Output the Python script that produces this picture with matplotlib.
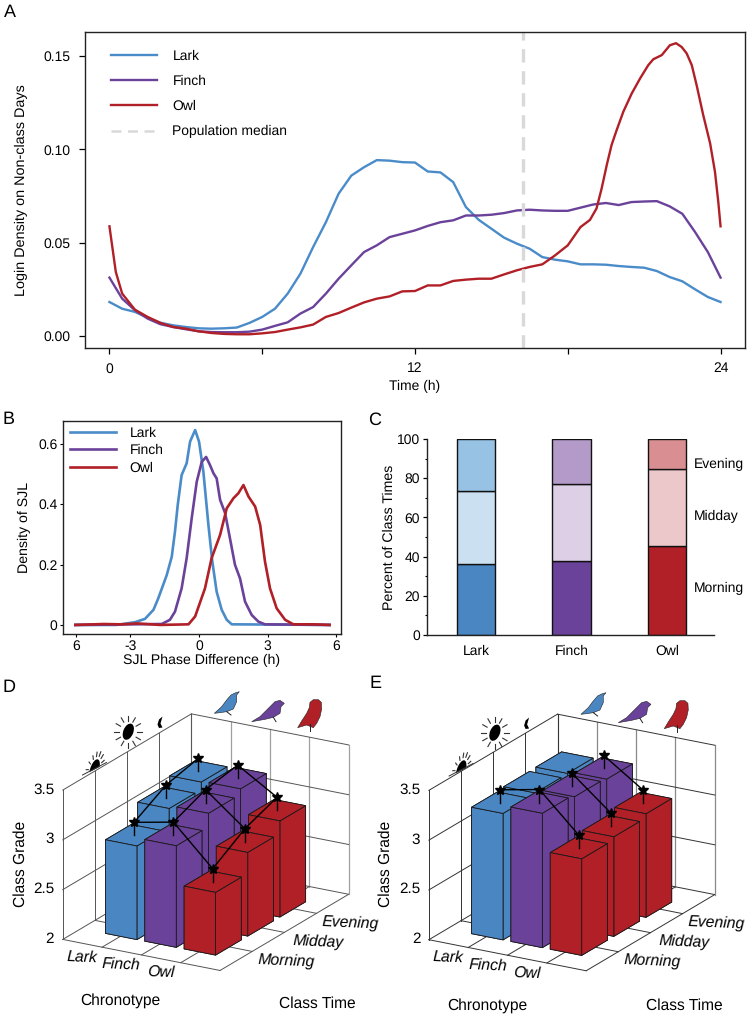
"""Chronotype figure: login density, SJL density, class time shares, class grades."""

import numpy as np
import matplotlib
matplotlib.use("Agg")
import matplotlib.pyplot as plt
from matplotlib.patches import Ellipse, Polygon
from mpl_toolkits.mplot3d import proj3d

plt.rcParams["font.family"] = ["Liberation Sans", "DejaVu Sans"]
plt.rcParams["axes.linewidth"] = 1.0
plt.rcParams["axes.edgecolor"] = "#222222"
plt.rcParams["text.hinting"] = "no_hinting"

W, H = 750, 1017

# --- Colours ---
BLUE, PURPLE, RED = "#4a86c2", "#6b429a", "#b11f27"
chronotypes = ["Lark", "Finch", "Owl"]
class_times = ["Morning", "Midday", "Evening"]

# --- Panel A: login density ---
t_half = np.arange(0, 24.5, 0.5)
lark_a = [.0182, .0146, .0129, .0098, .0071, .0057, .0048, .0041, .0039, .0041,
          .0045, .0070, .0102, .0146, .0227, .0334, .0477, .0610, .0763, .0860,
          .0905, .0943, .0940, .0932, .0930, .0882, .0877, .0825, .0691, .0623,
          .0575, .0527, .0495, .0468, .0423, .0409, .0400, .0384, .0384, .0382,
          .0375, .0370, .0366, .0348, .0316, .0293, .0250, .0209, .0182]
finch_a = [.0313, .0200, .0138, .0093, .0063, .0048, .0036, .0025, .0021, .0020,
           .0020, .0023, .0034, .0054, .0073, .0120, .0155, .0227, .0307, .0379,
           .0450, .0486, .0530, .0548, .0566, .0590, .0610, .0620, .0646, .0646,
           .0650, .0659, .0673, .0677, .0673, .0671, .0671, .0688, .0705, .0713,
           .0702, .0718, .0721, .0723, .0695, .0655, .0557, .0450, .0313]
t_owl = [0, .25, .5, 1, 1.5, 2, 2.5, 3, 3.5, 4, 4.5, 5, 5.5, 6, 6.5, 7, 7.5, 8, 8.5,
         9, 9.5, 10, 10.5, 11, 11.5, 12, 12.5, 13, 13.5, 14, 14.5, 15, 15.5, 16,
         16.5, 17, 17.5, 18, 18.5, 18.87, 19.13, 19.33, 19.53, 19.72, 19.92, 20.18,
         20.51, 20.84, 21.16, 21.36, 21.69, 22.01, 22.25, 22.47, 22.67, 22.87, 23.06,
         23.32, 23.59, 23.78, 23.91, 24]
owl_a = [.0588, .0343, .0227, .0141, .0102, .0070, .0048, .0039, .0025, .0016, .0011,
         .0009, .0009, .0014, .0021, .0034, .0046, .0061, .0102, .0123, .0152, .0180,
         .0200, .0212, .0239, .0241, .0271, .0271, .0295, .0302, .0307, .0307, .0330,
         .0352, .0370, .0384, .0432, .0486, .0584, .0622, .0684, .0791, .0916, .1024,
         .1104, .1202, .1300, .1381, .1452, .1484, .1506, .1559, .1570, .1550, .1515,
         .1452, .1345, .1184, .1033, .0881, .0720, .0588]
median_time = 16.23

# --- Panel B: SJL density ---
lark_bx = [-5.4, -3.6, -2.8, -2.36, -1.99, -1.78, -1.41, -1.19, -1.05, -.93, -.76, -.54,
           -.39, -.17, 0, .19, .41, .58, .77, .99, 1.21, 1.43, 5.7]
lark_by = [0, 0, .009, .02, .05, .088, .165, .226, .309, .397, .496, .535, .607, .645,
           .607, .507, .331, .21, .11, .05, .017, .002, 0]
finch_bx = [-5.4, -1.63, -1.27, -1.05, -.76, -.54, -.32, -.1, .12, .31, .48, .63, .77,
            .92, 1.14, 1.35, 1.57, 1.79, 2.01, 2.3, 2.59, 2.88, 5.7]
finch_by = [0, .003, .017, .044, .121, .221, .353, .474, .54, .556, .529, .502, .485,
            .414, .37, .287, .199, .154, .077, .033, .011, .002, 0]
owl_bx = [-5.4, -4.18, -3.4, -2.7, -1.7, -.46, -.17, .26, .55, .92, 1.21, 1.5, 1.72,
          1.94, 2.16, 2.45, 2.67, 2.88, 3.1, 3.39, 3.76, 4.12, 5, 5.7]
owl_by = [0, .003, .002, .005, 0, .002, .028, .121, .221, .298, .386, .419, .436, .463,
          .425, .392, .331, .21, .121, .055, .017, .002, .002, 0]

# --- Panel C: share of class times ---
morning_pct = [36, 38, 45.5]
midday_pct = [37.5, 39, 39]
evening_pct = [26.5, 23, 15.5]
dark_cols = [BLUE, PURPLE, RED]
pale_cols = ["#cbe0f1", "#dccfe6", "#edc8cb"]
mid_cols = ["#97c2e3", "#b49ac8", "#d98f91"]

# --- Panels D, E: class grades, rows are Morning, Midday, Evening ---
grades_d = [[2.94, 3.02, 2.63], [3.125, 3.155, 2.84], [3.20, 3.21, 2.965]]
grades_e = [[3.27, 3.35, 2.97], [3.285, 3.325, 3.00], [3.29, 3.31, 3.04]]
# (time, chronotype) pairs joined by a line
links_d = [((0, 0), (1, 0)), ((1, 0), (2, 0)), ((0, 0), (0, 1)), ((0, 1), (0, 2)),
           ((0, 1), (1, 1)), ((1, 1), (2, 1)), ((1, 1), (1, 2)), ((2, 1), (2, 2)),
           ((0, 2), (1, 2)), ((1, 2), (2, 2))]
links_e = [((0, 0), (0, 1)), ((0, 1), (0, 2)), ((1, 1), (1, 2)), ((2, 1), (2, 2))]
grade_ticks = [2, 2.5, 3, 3.5]
grade_labels = ["2", "2.5", "3", "3.5"]


def px_rect(left, top, right, bottom):
    return [left / W, 1 - bottom / H, (right - left) / W, (bottom - top) / H]


fig = plt.figure(figsize=(7.5, 10.17), dpi=100)

# --- A ---
ax = fig.add_axes(px_rect(85, 32, 745, 347.7))
ax.plot(t_half, lark_a, color="#4a8bc9", lw=1.7, label="Lark")
ax.plot(t_half, finch_a, color=PURPLE, lw=1.7, label="Finch")
ax.plot(t_owl, owl_a, color=RED, lw=1.7, label="Owl")
ax.axvline(median_time, color="#d9d9d9", lw=2.4, ls=(0, (4, 2.6)), label="Population median")
ax.set_xlim(-0.96, 24.96)
ax.set_ylim(-0.0063, 0.163)
ax.set_xticks([0, 6, 12, 18, 24], ["0", "", "12", "", "24"])
ax.set_yticks([0, 0.05, 0.10, 0.15], ["0.00", "0.05", "0.10", "0.15"])
ax.tick_params(labelsize=10, length=4.5, width=0.9, pad=6)
ax.set_xlabel("Time (h)", fontsize=10, labelpad=3.5)
ax.set_ylabel("Login Density on Non-class Days", fontsize=10.4, labelpad=11)
leg = ax.legend(loc="upper left", bbox_to_anchor=(0.021, 0.985), frameon=False, fontsize=10,
                handlelength=3.3, handletextpad=1.1, labelspacing=0.885)
leg.get_lines()[3].set_linewidth(1.8)

# --- B ---
ax = fig.add_axes(px_rect(63, 421, 341, 634.3))
ax.plot(lark_bx, lark_by, color="#4a8bc9", lw=1.9, label="Lark")
ax.plot(finch_bx, finch_by, color=PURPLE, lw=1.9, label="Finch")
ax.plot(owl_bx, owl_by, color=RED, lw=1.9, label="Owl")
ax.set_xlim(-5.94, 6.2)
ax.set_ylim(-0.031, 0.675)
ax.set_xticks([-5.37, -3, 0, 3, 6], ["6", "-3", "0", "3", "6"])
ax.set_yticks([0, 0.2, 0.4, 0.6], ["0", "0.2", "0.4", "0.6"])
ax.tick_params(labelsize=10, length=2, width=0.8, pad=2)
ax.set_xlabel("SJL Phase Difference (h)", fontsize=10.2, labelpad=1)
ax.set_ylabel("Density of SJL", fontsize=10.2, labelpad=5)
ax.legend(loc="upper left", bbox_to_anchor=(-0.018, 1.033), frameon=False, fontsize=10,
          handlelength=3.25, handletextpad=1.0, labelspacing=0.33)

# --- C ---
ax = fig.add_axes(px_rect(427, 439, 714, 635))
xpos = np.arange(len(chronotypes))
bar_kw = dict(width=0.4, edgecolor="#111111", linewidth=1.0)
ax.bar(xpos, morning_pct, color=dark_cols, **bar_kw)
ax.bar(xpos, midday_pct, bottom=morning_pct, color=pale_cols, **bar_kw)
ax.bar(xpos, evening_pct, bottom=np.add(morning_pct, midday_pct), color=mid_cols, **bar_kw)
ax.set_xlim(-0.513, 2.49)
ax.set_ylim(0, 100)
ax.set_xticks(xpos, chronotypes)
ax.set_yticks(range(0, 101, 20))
ax.set_yticks(range(10, 100, 20), minor=True)
ax.tick_params(axis="x", length=0, labelsize=10, pad=7)
ax.tick_params(axis="y", labelsize=10, length=3, width=0.9, pad=2)
ax.tick_params(axis="y", which="minor", length=1.5, width=0.8)
ax.spines[["top", "right"]].set_visible(False)
ax.set_ylabel("Percent of Class Times", fontsize=10.2, labelpad=1)
for lab, yval in zip(class_times, [23.5, 60.7, 87.2]):
    ax.text(2.28, yval, lab, fontsize=10, va="center", ha="left")


def grade_panel(rect, grades, links, line_col, back_col):
    ax3 = fig.add_axes(rect, projection="3d", proj_type="ortho")
    ax3.set_axis_off()
    ax3.patch.set_alpha(0)
    ax3.computed_zorder = False
    ax3.view_init(elev=20, azim=-60)
    ax3.set_box_aspect((545, 772, 477))

    # frame and grid
    grid = dict(color=line_col, lw=0.7, zorder=1)
    for v in [0, 1, 2, 3, 4]:
        ax3.plot([v, v], [0, 4], [2, 2], **grid)
        ax3.plot([0, 4], [v, v], [2, 2], **grid)
        ax3.plot([0, 0], [v, v], [2, 3.5], **grid)
        ax3.plot([v, v], [4, 4], [2, 3.5], color=back_col, lw=0.9, zorder=1)
    for z in grade_ticks[1:]:
        ax3.plot([0, 0], [0, 4], [z, z], **grid)
        ax3.plot([0, 4], [4, 4], [z, z], **grid)

    # bars, far ones first
    zo = 2
    for j in [2, 1, 0]:
        for i in range(3):
            ax3.bar3d(i + 1 - 0.38, j + 1 - 0.43, 2, 0.8, 0.8, grades[j][i] - 2,
                      color=dark_cols[i], edgecolor="#1a1a1a", linewidth=0.6,
                      shade=False, zorder=zo)
            zo += 1

    # links, whiskers and stars; only linked bars carry a star
    lift = 0.13
    for a, b in links:
        ax3.plot([a[1] + 1.02, b[1] + 1.02], [a[0] + 0.97, b[0] + 0.97],
                 [grades[a[0]][a[1]] + lift, grades[b[0]][b[1]] + lift],
                 color="black", lw=1.0, zorder=50)
    for j, i in sorted({cell for pair in links for cell in pair}):
        top = grades[j][i]
        ax3.plot([i + 1.02, i + 1.02], [j + 0.97, j + 0.97], [top, top + lift],
                 color="black", lw=1.0, zorder=51)
        ax3.plot([i + 1.02], [j + 0.97], [top + lift], ls="none", marker="*",
                 ms=7.5, color="black", zorder=52)

    ax3.set_xlim(0, 4)
    ax3.set_ylim(0, 4)
    ax3.set_zlim(2, 3.5)

    # labels go through the projection, then sit as plain 2D text
    M = ax3.get_proj()

    def label3d(x, y, z, text, **kw):
        x2, y2, _ = proj3d.proj_transform(x, y, z, M)
        ax3.annotate(text, xy=(x2, y2), xycoords="data", annotation_clip=False, **kw)

    for z, lab in zip(grade_ticks, grade_labels):
        label3d(-0.22, 0, z - 0.012, lab, fontsize=11, ha="right", va="center")
    for i, lab in enumerate(chronotypes):
        label3d(i + 0.94, -0.55, 2, lab, fontsize=11.3, style="italic", rotation=-2.5,
                ha="center", va="center")
    for j, lab in enumerate(class_times):
        label3d(4.95, j + 0.9, 2, lab, fontsize=11.3, style="italic", rotation=-2.5,
                ha="center", va="center")
    return ax3


grade_panel(px_rect(29.9, 675.6, 372.3, 1018), grades_d, links_d, "#555555", "#a0a0a0")
grade_panel(px_rect(396, 675.9, 738.4, 1018.3), grades_e, links_e, "#333333", "#888888")

# --- Overlay in pixel coordinates: panel letters, axis titles, icons ---
ov = fig.add_axes([0, 0, 1, 1], zorder=20)
ov.set_xlim(0, W)
ov.set_ylim(H, 0)
ov.axis("off")

for letter, x, y in [("A", 10, 12), ("B", 9, 419), ("C", 375, 420), ("D", 9, 687), ("E", 376, 683)]:
    ov.text(x, y, letter, fontsize=13, ha="center", va="center")
ov.text(21, 864, "Class Grade", fontsize=11.2, rotation=90, ha="center", va="center")
ov.text(386, 864, "Class Grade", fontsize=11.2, rotation=90, ha="center", va="center")
ov.text(120, 1000.5, "Chronotype", fontsize=11.2, ha="center", va="center")
ov.text(317, 1003.5, "Class Time", fontsize=11.2, ha="center", va="center")
ov.text(487, 1005.5, "Chronotype", fontsize=11.2, ha="center", va="center")
ov.text(684, 1005.5, "Class Time", fontsize=11.2, ha="center", va="center")

lark_shape = np.array([(28, 85), (50, 65), (65, 45), (78, 30), (90, 24), (103, 20), (95, 30),
                       (95, 50), (85, 72), (65, 80), (45, 83)]) / 3
finch_shape = np.array([(140, 110), (165, 95), (190, 70), (210, 50), (225, 46), (238, 55),
                        (228, 65), (225, 85), (205, 97), (180, 103)]) / 3
owl_shape = np.array([(278, 128), (290, 108), (305, 85), (313, 68), (315, 52), (325, 44), (340, 44),
                      (349, 52), (350, 72), (345, 95), (335, 115), (325, 128), (305, 120)]) / 3
legs = [((65, 80), (78, 90)), ((205, 97), (213, 110)), ((315, 118), (315, 138))]


def draw_icons(dx, dy):
    origin = np.array([205 + dx, 685 + dy])
    for shape, col in zip([lark_shape, finch_shape, owl_shape], dark_cols):
        ov.add_patch(Polygon(shape + origin, closed=True, facecolor=col,
                             edgecolor="#222222", linewidth=0.4))
    for a, b in legs:
        p0, p1 = np.array(a) / 3 + origin, np.array(b) / 3 + origin
        ov.plot([p0[0], p1[0]], [p0[1], p1[1]], color="#222222", lw=0.7)

    # full sun
    cx, cy = 128.3 + dx, 731.7 + dy
    ov.add_patch(Ellipse((cx, cy), 10, 17, angle=22, facecolor="black", edgecolor="none"))
    for ang in np.arange(0, 360, 30):
        c, s = np.cos(np.radians(ang)), np.sin(np.radians(ang))
        ov.plot([cx + 9 * c, cx + 14 * c], [cy + 11 * s, cy + 16 * s], color="#333333", lw=0.8)

    # rising sun: half dome on the slanted horizon
    base = np.array([94.5 + dx, 769.5 + dy])
    u = np.array([0.887, -0.462])
    v = np.array([0.15, -0.99])
    th = np.radians(np.arange(0, 181, 15))
    dome = base + 5.8 * np.outer(np.cos(th), u) + 10 * np.outer(np.sin(th), v)
    ov.add_patch(Polygon(dome, closed=True, facecolor="black", edgecolor="none"))
    for ang in [15, 40, 65, 90, 115, 140, 165]:
        d = np.cos(np.radians(ang)) * 6 * u + np.sin(np.radians(ang)) * 10 * v
        p0, p1 = base + 1.3 * d, base + 1.75 * d
        ov.plot([p0[0], p1[0]], [p0[1], p1[1]], color="#333333", lw=0.8)
    ov.plot([base[0] - 12, base[0] + 12], [base[1] + 5.5, base[1] - 7], color="#333333", lw=0.7)

    # moon
    mx, my = 160 + dx, 722.5 + dy
    ov.add_patch(Polygon([(mx + 2.5, my - 6), (mx - 1, my - 3), (mx - 2.5, my + 2), (mx - 1, my + 5.5),
                          (mx + 2.5, my + 5), (mx + 0.5, my + 1)], closed=True, facecolor="black",
                         edgecolor="none"))


draw_icons(0, 0)
draw_icons(366.6, 1)

fig.savefig("out.png", dpi=100)
